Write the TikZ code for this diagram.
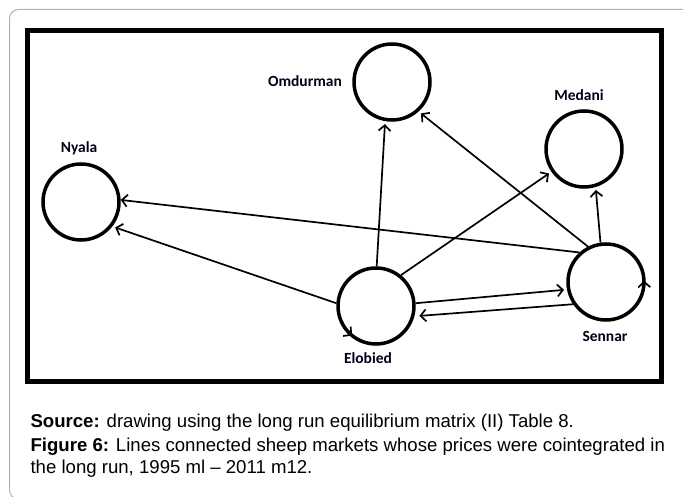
\documentclass[tikz,border=0pt]{standalone}
\usepackage{fontspec}
\usepackage{tikz}
\usetikzlibrary{arrows.meta}
\newfontfamily\labelfont{Carlito}
\newfontfamily\capfont{Liberation Sans}

\begin{document}
\begin{tikzpicture}[x=1pt, y=1pt,
    market/.style={circle, draw, line width=3.5pt, minimum size=76pt, inner sep=0pt},
    mlabel/.style={anchor=base, font=\labelfont\fontsize{15.5}{18}\selectfont\bfseries, text=black!90!blue},
    caption/.style={anchor=base west, font=\capfont\fontsize{18.6}{22}\selectfont},
    link/.style={line width=1.7pt, -{Straight Barb[length=5.5pt, width=12pt]}, shorten >=3pt},
    selfloop/.style={line width=1.7pt, -{Straight Barb[length=5.5pt, width=12pt]}}]
    \useasboundingbox (0,0) rectangle (683,496);

    % 1. gray page frame and black picture frame
    \begin{scope}
        \clip (0,0) rectangle (683,496);
        \draw[black!30, line width=1pt, rounded corners=9pt] (9.5,-3) rectangle (692,486.5);
    \end{scope}
    \draw[line width=5pt] (27.5,115) rectangle (661.5,465.5);

    % 2. markets
    \node[market] (omdurman) at (392,414) {};
    \node[market] (medani)   at (584,347) {};
    \node[market] (nyala)    at (81,294)  {};
    \node[market] (elobied)  at (376,190) {};
    \node[market] (sennar)   at (606,214) {};

    \node[mlabel] (omdurmanlbl) at (305,409) {Omdurman};
    \node[mlabel] (medanilbl)   at (579,395) {Medani};
    \node[mlabel] (nyalalbl)    at (79,343)  {Nyala};
    \node[mlabel] (elobiedlbl)  at (368,133) {Elobied};
    \node[mlabel] (sennarlbl)   at (605,154) {Sennar};

    % 3. cointegration links
    \draw[link] (elobied.89)  -- (omdurman.-100);
    \draw[link] (elobied.51)  -- (medani.-145);
    \draw[link] (sennar.117)  -- (omdurman.-48);
    \draw[link] (sennar.98)   -- (medani.-73);
    \draw[link, shorten >=0pt] (sennar.132) -- (nyala.3);
    \draw[link] (elobied.176) -- (nyala.-38);
    \draw[link] (elobied.4)   -- (sennar.-169);
    \draw[link, shorten >=5pt] (sennar.-146) -- (elobied.-15);

    % 4. self loops on the circles
    \draw[selfloop] ([shift={(209:38pt)}]elobied.center) arc[start angle=209, end angle=231, radius=38pt];
    \draw[selfloop] ([shift={(-16:38pt)}]sennar.center) arc[start angle=-16, end angle=2, radius=38pt];

    % 5. caption
    \node[caption] (source) at (27,69)
        {\textbf{Source:} drawing using the long run equilibrium matrix (II) Table 8.};
    \node[caption] (figline) at (27,45)
        {\textbf{Figure 6:} Lines connected sheep markets whose prices were cointegrated in};
    \node[caption] (figline2) at (27,23)
        {the long run, 1995 ml – 2011 m12.};
\end{tikzpicture}
\end{document}
